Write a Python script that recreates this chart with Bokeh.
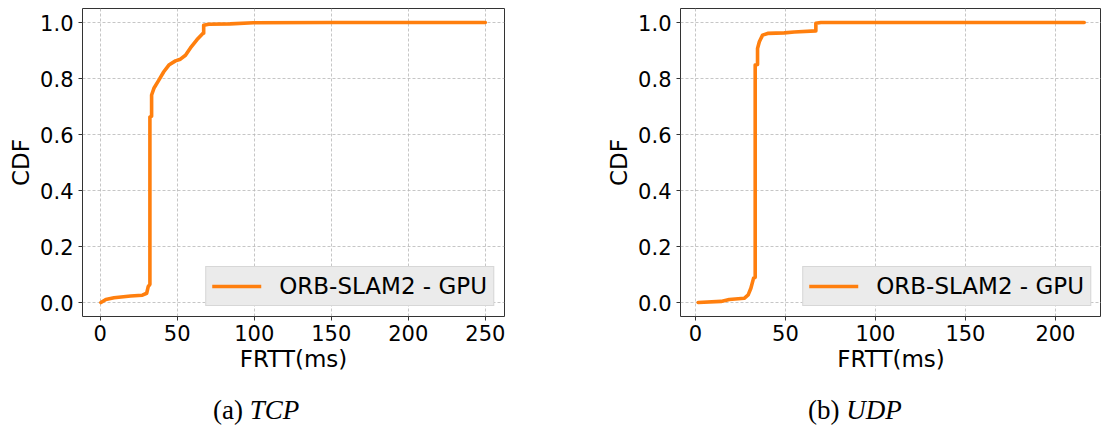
from bokeh.plotting import figure
from bokeh.layouts import row, column
from bokeh.models import Range1d, FixedTicker, NumeralTickFormatter, Legend, LegendItem, Div
from bokeh.embed import file_html
from bokeh.resources import INLINE

# ---- data ----
tcp_frtt = [0.5, 3.7, 9.0, 19.8, 27.4, 30.2, 31.2, 32.3, 32.3, 33.4, 33.4, 34.9, 38.1, 41.3,
            44.6, 48.9, 52.1, 55.4, 58.6, 62.9, 66.5, 67.2, 67.2, 70.4, 84.4, 99.5, 150.0, 250.0]
tcp_cdf = [0.0, 0.011, 0.017, 0.023, 0.026, 0.033, 0.057, 0.065, 0.663, 0.665, 0.741, 0.765, 0.794, 0.824,
           0.848, 0.863, 0.869, 0.883, 0.909, 0.939, 0.960, 0.962, 0.990, 0.994, 0.995, 0.999, 1.0, 1.0]

udp_frtt = [1.5, 14.2, 18.8, 27.1, 29.3, 30.8, 32.3, 33.2, 33.2, 34.5, 34.5, 35.5, 37.3, 40.1,
            49.3, 54.9, 66.9, 66.9, 69.7, 100.0, 216.0]
udp_cdf = [0.0, 0.004, 0.011, 0.015, 0.027, 0.051, 0.087, 0.09, 0.848, 0.85, 0.907, 0.931, 0.955, 0.961,
           0.963, 0.966, 0.970, 0.997, 1.0, 1.0, 1.0]

series_label = "ORB-SLAM2 - GPU"
y_ticks = [0.0, 0.2, 0.4, 0.6, 0.8, 1.0]
tcp_x_ticks = [0, 50, 100, 150, 200, 250]
udp_x_ticks = [0, 50, 100, 150, 200]
captions = [("(a)", "TCP"), ("(b)", "UDP")]

FONT = "DejaVu Sans"
ORANGE = "#ff7f0e"


def make_plot(xs, ys, x_range, x_ticks, width_frame, border_left, border_right):
    p = figure(output_backend="svg", toolbar_location=None,
               frame_width=width_frame, frame_height=308,
               x_range=Range1d(*x_range), y_range=Range1d(-0.05, 1.05),
               min_border_left=border_left, min_border_right=border_right,
               min_border_top=8, min_border_bottom=60,
               background_fill_color="white", border_fill_color="white")
    p.outline_line_color = "#333333"
    p.outline_line_width = 1
    p.outline_line_alpha = 1

    for ax in (p.xaxis[0], p.yaxis[0]):
        ax.axis_line_color = None
        ax.major_tick_out = 4
        ax.major_tick_in = 0
        ax.major_tick_line_color = "#333333"
        ax.minor_tick_line_color = None
        ax.major_label_text_font = FONT
        ax.major_label_text_font_size = "21px"
        ax.major_label_text_color = "black"
        ax.axis_label_text_font = FONT
        ax.axis_label_text_font_size = "23px"
        ax.axis_label_text_font_style = "normal"
        ax.axis_label_text_color = "black"

    p.xaxis.ticker = FixedTicker(ticks=x_ticks)
    p.yaxis.ticker = FixedTicker(ticks=y_ticks)
    p.yaxis.formatter = NumeralTickFormatter(format="0.0")
    p.xaxis.axis_label = "FRTT(ms)"
    p.yaxis.axis_label = "CDF"
    p.xaxis.major_label_standoff = 4
    p.yaxis.major_label_standoff = 5
    p.xaxis.axis_label_standoff = 2
    p.yaxis.axis_label_standoff = 3

    for g in (p.xgrid[0], p.ygrid[0]):
        g.grid_line_color = "#b8b8b8"
        g.grid_line_dash = "3 2"
        g.grid_line_width = 0.8

    r = p.line(xs, ys, line_color=ORANGE, line_width=3.6, line_join="round", line_cap="round")

    legend = Legend(items=[LegendItem(label=series_label, renderers=[r])],
                    location="bottom_right", margin=10, padding=6, spacing=0,
                    glyph_width=49, glyph_height=20, label_standoff=18,
                    label_text_font=FONT, label_text_font_size="23px", label_text_color="black",
                    background_fill_color="#ebebeb", background_fill_alpha=1.0,
                    border_line_color="#c4c4c4", border_line_width=1)
    p.add_layout(legend, "center")
    return p


def caption_div(cap, left, width):
    html = ('<div style="position:relative; left:%dpx; top:21px; white-space:nowrap; '
            'font-family:\'Liberation Serif\', serif; font-size:27px; line-height:1; color:black;">'
            '%s <i>%s</i></div>' % (left, cap[0], cap[1]))
    return Div(text=html, width=width, height=52, margin=(0, 0, 0, 0))


p1 = make_plot(tcp_frtt, tcp_cdf, (-11.45, 262.45), tcp_x_ticks, 422, 82, 46)
p2 = make_plot(udp_frtt, udp_cdf, (-8.3, 225.6), udp_x_ticks, 421, 130, 0)

d1 = caption_div(captions[0], 213, 550)
d2 = caption_div(captions[1], 258, 551)

layout = column(row(p1, p2, spacing=0), row(d1, d2, spacing=0), spacing=0)
open("out.html", "w").write(file_html(layout, INLINE))
